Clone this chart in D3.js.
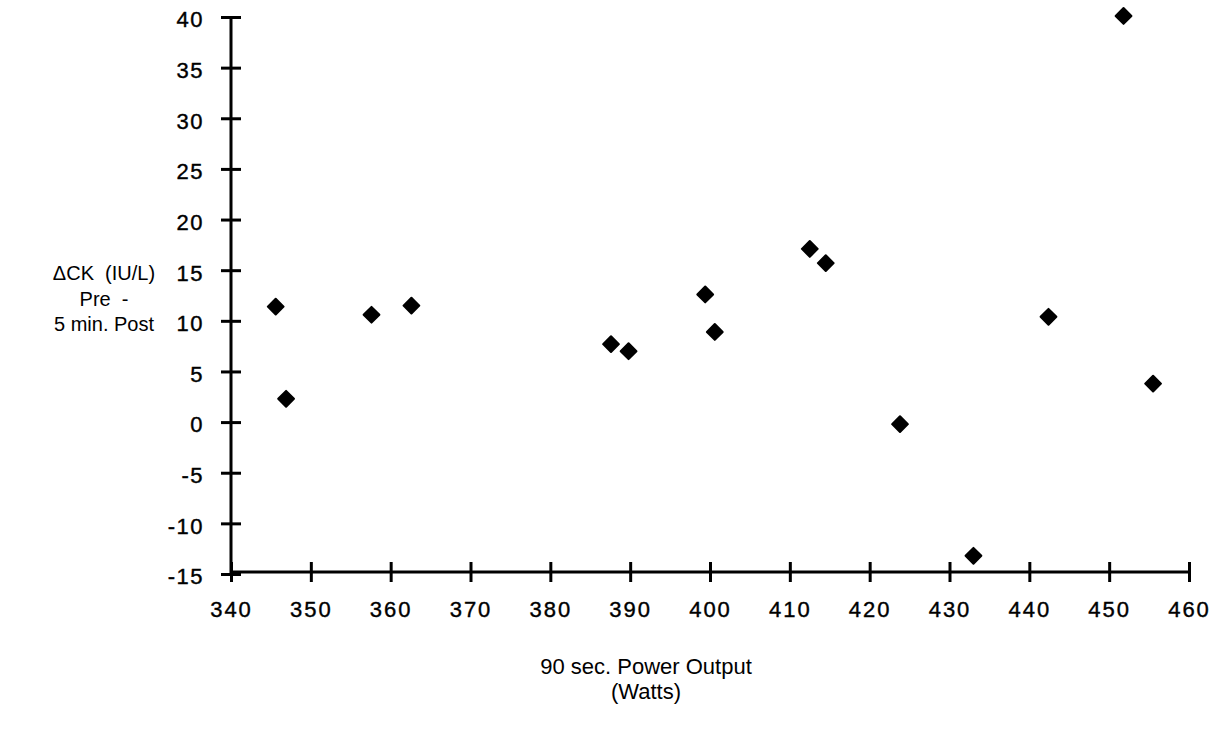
<!DOCTYPE html>
<html>
<head>
<meta charset="utf-8">
<script src="https://cdn.jsdelivr.net/npm/d3@7"></script>
<style>
  html, body { margin: 0; padding: 0; background: #fff; }
  svg { display: block; font-family: "Liberation Sans", Arial, Helvetica, sans-serif; }
</style>
</head>
<body>
<svg id="chart" width="1225" height="740"></svg>
<script>
// values
const powerOutput = [345.6, 346.9, 357.6, 362.6, 387.6, 389.8, 399.4, 400.6, 412.5, 414.5, 423.8, 433.0, 442.4, 451.8, 455.5];
const deltaCK     = [11.4,  2.3,   10.6,  11.5,  7.7,   7.0,   12.6,  8.9,   17.1,  15.7,  -0.2,  -13.2, 10.4,  40.1,  3.8];
const xTicks = [340, 350, 360, 370, 380, 390, 400, 410, 420, 430, 440, 450, 460];
const yTicks = [40, 35, 30, 25, 20, 15, 10, 5, 0, -5, -10, -15];
const yTitle = ["\u0394CK  (IU/L)", "Pre  -", "5 min. Post"];
const xTitle = ["90 sec. Power Output", "(Watts)"];

const svg = d3.select('#chart');
const x = d3.scaleLinear().domain([340, 460]).range([231, 1189]);
const y = d3.scaleLinear().domain([-15, 40]).range([574, 17]);

// y axis (plain hyphen minus like the original)
const yAxis = svg.append('g').attr('transform', `translate(${x(340)},0)`)
  .call(d3.axisLeft(y).tickValues(yTicks).tickFormat(d => String(d)).tickSize(0).tickPadding(27));
yAxis.select('.domain').remove();
yAxis.append('line').attr('y1', y(40)).attr('y2', y(-15)).attr('stroke', '#000').attr('stroke-width', 3);
yAxis.selectAll('.tick').append('line').attr('x1', -10).attr('x2', 10).attr('stroke', '#000').attr('stroke-width', 3);
yAxis.selectAll('.tick text').attr('fill', '#000').attr('stroke', '#000').attr('stroke-width', 0.4)
  .attr('dy', '0.45em').style('font-size', '22px').style('letter-spacing', '1.5px');

// x axis
const xAxis = svg.append('g').attr('transform', `translate(0,${y(-15) - 2})`)
  .call(d3.axisBottom(x).tickValues(xTicks).tickFormat(d => String(d)).tickSize(0).tickPadding(29));
xAxis.select('.domain').remove();
xAxis.append('line').attr('x1', x(340)).attr('x2', x(460)).attr('stroke', '#000').attr('stroke-width', 3);
xAxis.selectAll('.tick').append('line').attr('y1', -10).attr('y2', 10).attr('stroke', '#000').attr('stroke-width', 3);
xAxis.selectAll('.tick text').attr('fill', '#000').attr('stroke', '#000').attr('stroke-width', 0.4)
  .style('font-size', '22px').style('letter-spacing', '2px');

// points
const diamond = d3.symbol().type(d3.symbolSquare).size(125);
svg.append('g').selectAll('path')
  .data(powerOutput.map((p, i) => ({p, ck: deltaCK[i]})))
  .join('path')
  .attr('d', diamond)
  .attr('transform', d => `translate(${x(d.p)},${y(d.ck)}) rotate(45)`)
  .attr('fill', '#000')
  .attr('stroke', '#000').attr('stroke-width', 2).attr('stroke-linejoin', 'round');

// titles
svg.append('text').attr('text-anchor', 'middle').style('font-size', '20px').style('white-space', 'pre').attr('fill', '#000')
  .selectAll('tspan').data(yTitle).join('tspan')
  .attr('x', 104).attr('y', (d, i) => 280 + i * 25.5).text(d => d);

svg.append('text').attr('text-anchor', 'middle').style('font-size', '22px').attr('fill', '#000')
  .selectAll('tspan').data(xTitle).join('tspan')
  .attr('x', 646).attr('y', (d, i) => 674 + i * 25).text(d => d);
</script>
</body>
</html>
